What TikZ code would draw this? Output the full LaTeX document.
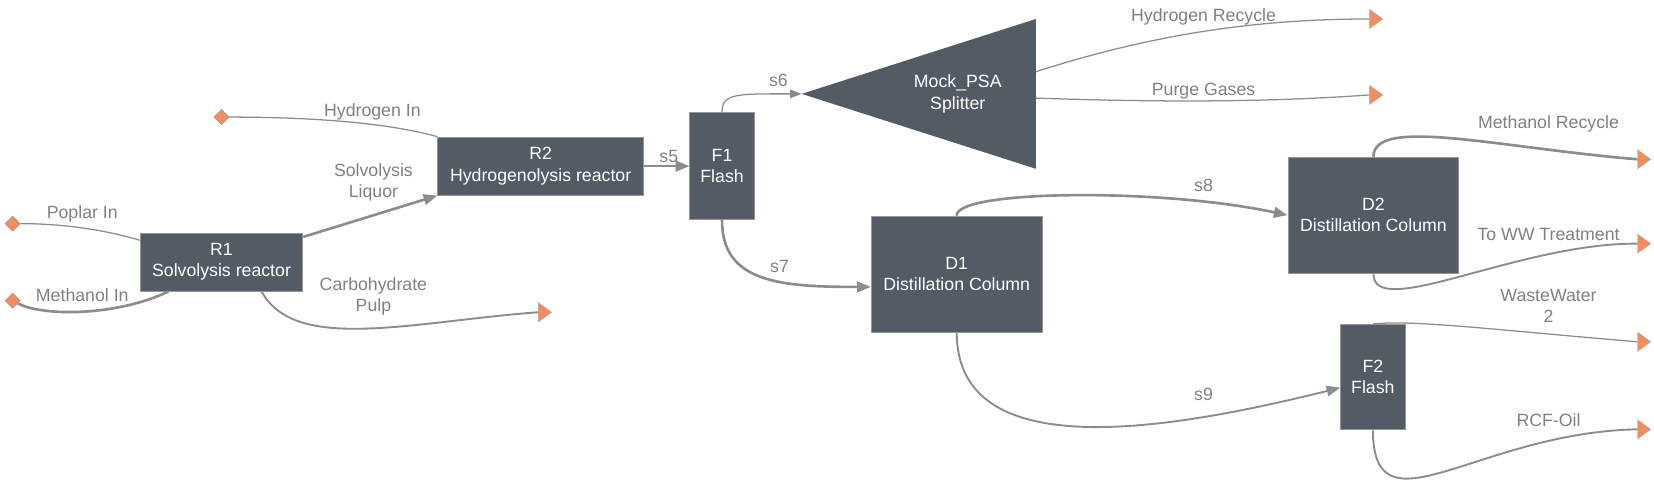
\documentclass[tikz,border=0pt]{standalone}
\usepackage{fontspec}
\setmainfont{Liberation Sans}
\usetikzlibrary{arrows.meta,shapes.geometric,calc}
\definecolor{slate}{RGB}{83,91,101}
\definecolor{rim}{RGB}{150,150,150}
\definecolor{pipe}{RGB}{140,140,140}
\definecolor{note}{RGB}{128,128,128}
\definecolor{coral}{RGB}{244,140,94}
\tikzset{
  >={Triangle[length=13pt,width=10pt]},
  thin tip/.style={-{Triangle[length=11pt,width=8pt]}},
  unit/.style={draw=rim,line width=0.8pt,fill=slate,text=white,align=center,
    font=\fontsize{16.8}{20}\selectfont,inner sep=0pt},
  feed/.style={diamond,fill=coral,draw=rim,line width=0.5pt,minimum size=14.5pt,inner sep=0pt},
  product/.style={isosceles triangle,isosceles triangle apex angle=72,fill=coral,
    draw=rim!80,line width=0.4pt,minimum height=12.5pt,inner sep=0pt},
  stream/.style={draw=pipe,line width=#1},
  stream/.default=1.2pt,
  tag/.style={text=note,font=\fontsize{16.8}{20}\selectfont,align=center,inner sep=0pt},
}

\begin{document}
\begin{tikzpicture}[x=1pt,y=-1pt]
  \useasboundingbox (0,0) rectangle (1568,463);
  % units
  \node[unit,minimum width=154pt,minimum height=55pt] (r1) at (210,248.5) {R1\\Solvolysis reactor};
  \node[unit,minimum width=195pt,minimum height=55pt] (r2) at (512.5,157.5) {R2\\Hydrogenolysis reactor};
  \node[unit,minimum width=61pt,minimum height=101pt] (f1) at (684.5,157.5) {F1\\Flash};
  \node[unit,minimum width=162pt,minimum height=110pt] (d1) at (907,260) {D1\\Distillation Column};
  \node[unit,minimum width=162pt,minimum height=110pt] (d2) at (1302,204) {D2\\Distillation Column};
  \node[unit,minimum width=61pt,minimum height=100pt] (f2) at (1301.5,357.5) {F2\\Flash};
  \fill[slate] (760,89) -- (982,18) -- (982,160) -- cycle;
  \node[unit,draw=none,fill=none] (psa) at (908,89) {Mock\_PSA\\Splitter};
  \coordinate (psa in) at (760,89);
  \coordinate (psa top) at (982,68);
  \coordinate (psa mid) at (982,93);
  % feeds and products
  \node[feed] (h2in) at (210,111) {};
  \node[feed] (poplar) at (12,212) {};
  \node[feed] (meoh) at (12,285) {};
  \foreach \n/\x/\y in {pulp/515/296,h2rec/1303/18,purge/1303/90,meohrec/1557/151,
    ww/1557/231,ww2/1557/324,oil/1557/407}
    \node[product] (\n) at (\x,\y) {};
  % streams
  \draw[stream] (h2in) .. controls (300,111) and (370,117) .. (r2.north west);
  \draw[stream] (poplar) .. controls (60,212) and (100,218) .. (r1.165);
  \draw[stream=2.5pt] (meoh) .. controls (40,300) and (110,300) .. ($(r1.south west)+(27,0)$);
  \draw[stream=2.5pt,->] ($(r1.north east)+(0,4)$) -- (r2.south west);
  \draw[stream=1.8pt] ($(r1.south)+(38,0)$) .. controls (280,335) and (390,305) .. (pulp.west);
  \draw[stream=2.5pt,->] (r2) -- (f1);
  \draw[stream,thin tip] (f1.north) .. controls (684,88) and (700,89) .. (psa in);
  \draw[stream=2.5pt,->] (f1.south) .. controls (684,268) and (740,272) .. ($(d1.west)+(0,12)$);
  \draw[stream] (psa top) .. controls (1100,30) and (1200,18) .. (h2rec.west);
  \draw[stream] (psa mid) .. controls (1100,97) and (1200,97) .. (purge.west);
  \draw[stream=2.5pt,->] (d1.north) .. controls (905,180) and (1100,178) .. (d2.west);
  \draw[stream=1.8pt,->] (d1.south) .. controls (907,440) and (1100,410) .. ($(f2.west)+(0,10)$);
  \draw[stream=2.5pt] (d2.north) .. controls (1302,110) and (1420,140) .. (meohrec.west);
  \draw[stream=1.8pt] (d2.south) .. controls (1302,305) and (1440,230) .. (ww.west);
  \draw[stream] (f2.north) .. controls (1340,303) and (1420,313) .. (ww2.west);
  \draw[stream=1.8pt] (f2.south) .. controls (1302,510) and (1400,410) .. (oil.west);
  % labels
  \node[tag] (t h2in) at (353,106) {Hydrogen In};
  \node[tag] (t poplar) at (78,203) {Poplar In};
  \node[tag] (t meoh) at (78,280) {Methanol In};
  \node[tag] (t liquor) at (354,173) {Solvolysis\\Liquor};
  \node[tag] (t pulp) at (354,281) {Carbohydrate\\Pulp};
  \node[tag] (t s5) at (634,148) {s5};
  \node[tag] (t s6) at (738,76) {s6};
  \node[tag] (t s7) at (739,253) {s7};
  \node[tag] (t h2rec) at (1141,16) {Hydrogen Recycle};
  \node[tag] (t purge) at (1141,86) {Purge Gases};
  \node[tag] (t s8) at (1141,176) {s8};
  \node[tag] (t s9) at (1141,374) {s9};
  \node[tag] (t meohrec) at (1468,117) {Methanol Recycle};
  \node[tag] (t ww) at (1468,222) {To WW Treatment};
  \node[tag] (t ww2) at (1468,290) {WasteWater\\2};
  \node[tag] (t oil) at (1468,398) {RCF-Oil};
\end{tikzpicture}
\end{document}
